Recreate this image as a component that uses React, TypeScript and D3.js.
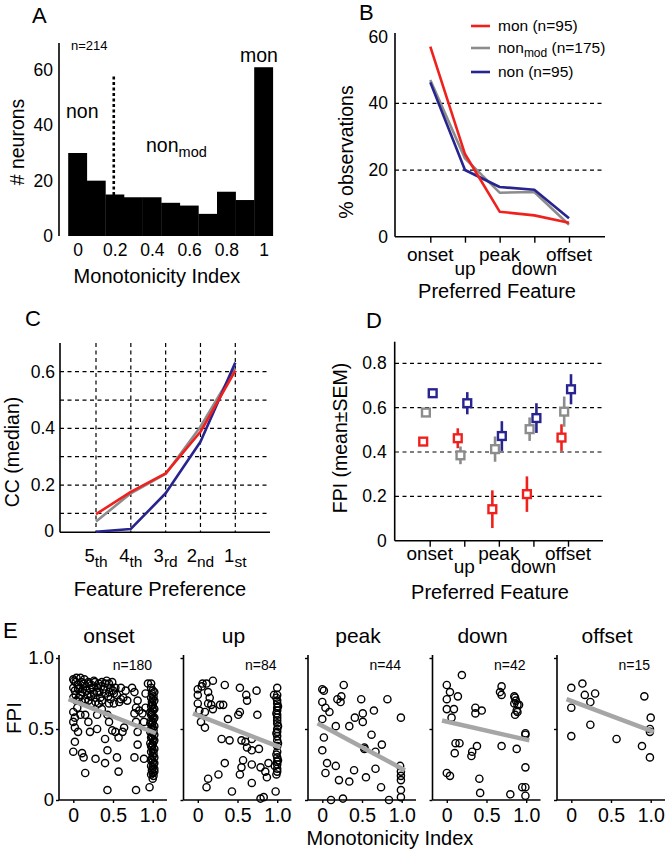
import React, { useEffect, useRef } from 'react';
import * as d3 from 'd3';

const FONT = '"Liberation Sans", Arial, Helvetica, sans-serif';
const RED = '#f0201c';
const GRAY = '#8c8c8c';
const BLUE = '#272490';
const FIT = '#a6a6a6';

// A: monotonicity index histogram
const miCenters = [0, 0.1, 0.2, 0.3, 0.4, 0.5, 0.6, 0.7, 0.8, 0.9, 1.0];
const miCounts = [30, 20, 15, 14, 14, 12, 11, 8, 16, 13, 61];
const miTicks = [0, 0.2, 0.4, 0.6, 0.8, 1];
const countTicks = [0, 20, 40, 60];
const miCut = 0.195;
const miCutRange = [14.8, 57.8];

// B: % observations per preferred feature
const features = ['onset', 'up', 'peak', 'down', 'offset'];
const pctMon = [57, 24.8, 7.5, 6.4, 4.2];
const pctNonmod = [47, 23.5, 13.2, 13.4, 3.6];
const pctNon = [46.3, 20, 14.9, 14.1, 5.5];
const pctTicks = [0, 20, 40, 60];
const pctGrid = [20, 40];

// C: CC (median) per feature rank
const rankNum = ['5', '4', '3', '2', '1'];
const rankSuf = ['th', 'th', 'rd', 'nd', 'st'];
const ccMon = [0.097, 0.176, 0.241, 0.388, 0.604];
const ccNonmod = [0.071, 0.171, 0.239, 0.406, 0.612];
const ccNon = [0.035, 0.045, 0.171, 0.353, 0.632];
const ccTicks = [0.2, 0.4, 0.6];
const ccGrid = [0.1, 0.2, 0.3, 0.4, 0.5, 0.6];

// D: FPI mean +- SEM
const fpiMon = [0.447, 0.462, 0.142, 0.21, 0.465];
const semMon = [0.02, 0.045, 0.085, 0.08, 0.06];
const fpiNonmod = [0.578, 0.385, 0.413, 0.503, 0.582];
const semNonmod = [0.015, 0.04, 0.057, 0.053, 0.068];
const fpiNon = [0.665, 0.62, 0.472, 0.553, 0.683];
const semNon = [0.02, 0.05, 0.067, 0.067, 0.068];
const fpiTicks = [0, 0.2, 0.4, 0.6, 0.8];
const fpiGrid = [0.2, 0.4, 0.6, 0.8];

// E: FPI vs monotonicity index, [MI, FPI]
const onsetPts = [
  [0.0, 0.85], [0.03, 0.83], [0.09, 0.86], [0.13, 0.82], [0.19, 0.83], [0.23, 0.81], [0.27, 0.83], [0.32, 0.82], [0.36, 0.83], [0.40, 0.82],
  [0.45, 0.82], [0.49, 0.83], [0.53, 0.79], [0.60, 0.79], [0.66, 0.77], [0.74, 0.79], [0.77, 0.76], [0.94, 0.82], [0.98, 0.82],
  [0.0, 0.79], [0.02, 0.77], [0.06, 0.78], [0.11, 0.76], [0.17, 0.77], [0.21, 0.78], [0.26, 0.75], [0.30, 0.76], [0.34, 0.72], [0.40, 0.75],
  [0.45, 0.76], [0.51, 0.75], [0.60, 0.71], [0.68, 0.70], [0.81, 0.70], [0.91, 0.75],
  [0.0, 0.72], [0.04, 0.70], [0.09, 0.74], [0.15, 0.71], [0.19, 0.70], [0.23, 0.68], [0.28, 0.69], [0.32, 0.68], [0.36, 0.70], [0.45, 0.68],
  [0.47, 0.71], [0.51, 0.68], [0.79, 0.65], [0.83, 0.63], [0.91, 0.65], [0.87, 0.61],
  [0.0, 0.62], [0.02, 0.58], [0.0, 0.55], [0.02, 0.51], [0.06, 0.48], [0.15, 0.60], [0.19, 0.55], [0.21, 0.48], [0.30, 0.60], [0.30, 0.50],
  [0.36, 0.64], [0.43, 0.60], [0.45, 0.55], [0.49, 0.49], [0.53, 0.48], [0.57, 0.44], [0.62, 0.48], [0.64, 0.51], [0.77, 0.61], [0.79, 0.55],
  [0.81, 0.48], [0.89, 0.55], [0.40, 0.43],
  [0.02, 0.41], [0.0, 0.34], [0.11, 0.33], [0.13, 0.30], [0.15, 0.19], [0.28, 0.29], [0.40, 0.26], [0.43, 0.35], [0.55, 0.30], [0.57, 0.20],
  [0.77, 0.30], [0.81, 0.39], [0.89, 0.29], [0.43, 0.07], [0.79, 0.07], [0.96, 0.09],
  [0.01, 0.84], [0.04, 0.86], [0.06, 0.81], [0.08, 0.79], [0.10, 0.83], [0.12, 0.78], [0.14, 0.85], [0.16, 0.80], [0.18, 0.74], [0.20, 0.82],
  [0.22, 0.73], [0.24, 0.79], [0.26, 0.84], [0.28, 0.72], [0.31, 0.79], [0.33, 0.76], [0.35, 0.80], [0.38, 0.78], [0.42, 0.84], [0.44, 0.73],
  [0.47, 0.79], [0.50, 0.77], [0.55, 0.74], [0.58, 0.69], [0.63, 0.72], [0.03, 0.74], [0.07, 0.72], [0.11, 0.69], [0.05, 0.65], [0.09, 0.60],
  [1.0, 0.77], [0.99, 0.75], [1.01, 0.73], [1.0, 0.71], [0.99, 0.69], [1.0, 0.67], [1.01, 0.65], [1.0, 0.63], [0.99, 0.61], [1.0, 0.59],
  [1.01, 0.57], [1.0, 0.55], [0.99, 0.53], [1.0, 0.51], [1.01, 0.49], [1.0, 0.47], [0.99, 0.45], [1.0, 0.43], [1.01, 0.41], [1.0, 0.39],
  [0.99, 0.37], [1.0, 0.35], [1.01, 0.33], [1.0, 0.31], [0.99, 0.29], [1.0, 0.27], [1.01, 0.25], [1.0, 0.23], [0.99, 0.21], [1.0, 0.19],
  [1.01, 0.17], [1.0, 0.15],
  [0.98, 0.79], [1.02, 0.76], [0.98, 0.72], [1.02, 0.70], [0.98, 0.66], [1.02, 0.64], [0.98, 0.60], [1.02, 0.58], [0.98, 0.56], [1.02, 0.52],
  [0.98, 0.50], [1.02, 0.46], [0.98, 0.44], [1.02, 0.42], [0.98, 0.38], [1.02, 0.36], [0.98, 0.34], [1.02, 0.30], [0.98, 0.28], [1.02, 0.26],
  [0.98, 0.24], [1.02, 0.20], [0.98, 0.18], [1.02, 0.22], [0.97, 0.48], [0.97, 0.62], [0.97, 0.40], [0.97, 0.54],
];
const upPts = [
  [0.0, 0.78], [0.0, 0.74], [0.0, 0.68], [0.02, 0.63], [0.04, 0.55], [0.09, 0.51], [0.06, 0.82], [0.11, 0.82], [0.19, 0.84], [0.13, 0.76],
  [0.15, 0.72], [0.13, 0.68], [0.17, 0.67], [0.19, 0.64], [0.28, 0.67], [0.32, 0.67], [0.34, 0.81], [0.38, 0.57], [0.53, 0.79], [0.61, 0.74],
  [0.62, 0.70], [0.53, 0.62], [0.51, 0.60], [0.74, 0.77], [0.75, 0.60], [0.30, 0.43], [0.40, 0.42], [0.55, 0.42], [0.60, 0.41], [0.62, 0.37],
  [0.68, 0.35], [0.77, 0.36], [0.68, 0.43], [0.34, 0.26], [0.57, 0.28], [0.55, 0.23], [0.53, 0.18], [0.68, 0.25], [0.79, 0.23], [0.85, 0.20],
  [0.87, 0.16], [0.89, 0.26], [0.68, 0.12], [0.26, 0.18], [0.13, 0.15], [0.11, 0.09], [0.43, 0.06], [0.79, 0.01], [0.83, 0.02], [0.98, 0.06],
  [1.0, 0.79], [1.0, 0.74], [1.0, 0.70], [1.0, 0.68], [1.0, 0.65], [1.0, 0.63], [1.0, 0.60], [1.0, 0.58], [1.0, 0.56], [1.0, 0.54],
  [1.0, 0.50], [1.0, 0.48], [1.0, 0.45], [1.0, 0.42], [1.0, 0.38], [1.0, 0.34], [1.0, 0.30], [1.0, 0.27], [1.0, 0.25], [1.0, 0.22],
  [1.0, 0.20], [0.96, 0.74], [0.97, 0.24],
  [0.99, 0.72], [1.01, 0.66], [0.99, 0.61], [1.01, 0.52], [0.99, 0.47], [1.01, 0.40], [0.99, 0.32], [1.01, 0.28], [0.99, 0.18], [0.05, 0.80],
  [0.09, 0.62],
];
const peakPts = [
  [0.0, 0.78], [0.0, 0.69], [0.04, 0.65], [0.09, 0.62], [0.0, 0.57], [0.02, 0.44], [0.0, 0.35], [0.06, 0.26], [0.04, 0.19], [0.17, 0.24],
  [0.17, 0.52], [0.19, 0.71], [0.23, 0.69], [0.24, 0.73], [0.27, 0.81], [0.21, 0.14], [0.34, 0.13], [0.34, 0.52], [0.40, 0.21], [0.41, 0.58],
  [0.51, 0.61], [0.51, 0.55], [0.49, 0.71], [0.53, 0.36], [0.55, 0.16], [0.62, 0.46], [0.65, 0.63], [0.67, 0.34], [0.67, 0.22], [0.74, 0.09],
  [0.75, 0.39], [0.82, 0.71], [0.84, 0.0], [0.99, 0.58], [0.99, 0.20], [0.99, 0.14], [0.99, 0.07], [0.99, 0.02], [0.11, 0.0], [0.26, 0.01],
  [0.98, 0.24], [0.53, 0.37], [0.99, 0.17], [0.02, 0.77],
];
const downPts = [
  [0.0, 0.81], [0.04, 0.76], [0.0, 0.71], [0.14, 0.73], [0.0, 0.64], [0.09, 0.64], [0.06, 0.58], [0.19, 0.88], [0.11, 0.40], [0.16, 0.40],
  [0.10, 0.33], [0.0, 0.19], [0.04, 0.17], [0.36, 0.65], [0.36, 0.61], [0.44, 0.63], [0.38, 0.38], [0.32, 0.34], [0.31, 0.31], [0.41, 0.15],
  [0.42, 0.05], [0.69, 0.80], [0.67, 0.76], [0.69, 0.74], [0.69, 0.38], [0.80, 0.04], [0.85, 0.73], [0.87, 0.70], [0.85, 0.68], [0.89, 0.67],
  [0.91, 0.67], [0.88, 0.63], [0.86, 0.60], [0.88, 0.36], [0.99, 0.46], [0.99, 0.23], [0.95, 0.09], [0.99, 0.09], [0.99, 0.03], [0.89, 0.62],
  [0.86, 0.72], [0.99, 0.47],
];
const offsetPts = [
  [0.0, 0.79], [0.14, 0.82], [0.17, 0.74], [0.30, 0.75], [0.24, 0.69], [0.0, 0.65], [0.24, 0.53], [0.0, 0.45], [0.57, 0.43], [0.92, 0.73],
  [1.0, 0.58], [0.99, 0.50], [0.99, 0.48], [0.89, 0.38], [0.99, 0.30],
];
const eTitles = ['onset', 'up', 'peak', 'down', 'offset'];
const eCounts = [180, 84, 44, 42, 15];
const ePoints = [onsetPts, upPts, peakPts, downPts, offsetPts];
const eFitX = [-0.06, 1.04];
const eFitY = [[0.71, 0.47], [0.61, 0.37], [0.54, 0.21], [0.56, 0.42], [0.71, 0.48]];
const eTicks = [0, 0.5, 1];

export default function App() {
  const svgRef = useRef<SVGSVGElement>(null);

  useEffect(() => {
    document.body.style.margin = '0';
    const svg = d3.select(svgRef.current);
    svg.selectAll('*').remove();
    svg.attr('font-family', FONT);

    const text = (x: number, y: number, s: string, size: number, anchor = 'start') =>
      svg.append('text').attr('x', x).attr('y', y).attr('font-size', size)
        .attr('text-anchor', anchor).attr('fill', '#000').text(s);
    const vlabel = (x: number, y: number, s: string, size = 19.5) =>
      svg.append('text').attr('transform', `translate(${x},${y}) rotate(-90)`)
        .attr('text-anchor', 'middle').attr('dy', '0.35em').attr('font-size', size).text(s);
    const hline = (x1: number, x2: number, y: number, dash?: string, w = 1.4) =>
      svg.append('line').attr('x1', x1).attr('x2', x2).attr('y1', y).attr('y2', y)
        .attr('stroke', '#000').attr('stroke-width', w).attr('stroke-dasharray', dash || null);
    const vline = (x: number, y1: number, y2: number, dash?: string, w = 1.4) =>
      svg.append('line').attr('x1', x).attr('x2', x).attr('y1', y1).attr('y2', y2)
        .attr('stroke', '#000').attr('stroke-width', w).attr('stroke-dasharray', dash || null);
    const tidy = (g: any, size: number) => {
      g.select('.domain').remove();
      g.selectAll('text').attr('font-family', FONT).attr('font-size', size).attr('fill', '#000');
      g.selectAll('line').attr('stroke', '#000').attr('stroke-width', 1.4);
    };
    const DASH = '4,3.5';

    // ---------- A
    const xA = d3.scaleLinear().domain([0, 1]).range([77.5, 263.5]);
    const yA = d3.scaleLinear().domain([0, 60]).range([236, 70]);
    svg.append('g').selectAll('rect').data(miCounts).join('rect')
      .attr('x', (d, i) => xA(miCenters[i] - 0.05))
      .attr('width', (d, i) => xA(miCenters[i] + 0.05) - xA(miCenters[i] - 0.05) + 0.3)
      .attr('y', d => yA(d)).attr('height', d => yA(0) - yA(d)).attr('fill', '#000');
    vline(59, 43, 236, undefined, 1.6);
    svg.append('g').attr('transform', 'translate(59,0)')
      .call(d3.axisLeft(yA).tickValues(countTicks).tickSize(0).tickPadding(6))
      .call(g => tidy(g, 17.5));
    svg.append('g').attr('transform', 'translate(0,236)')
      .call(d3.axisBottom(xA).tickValues(miTicks).tickSize(0).tickPadding(8).tickFormat(d => String(d)))
      .call(g => tidy(g, 17.5));
    vline(xA(miCut), yA(miCutRange[0]), yA(miCutRange[1]), '3,2.5', 2.6);
    text(32, 23, 'A', 22);
    text(71, 50, 'n=214', 13);
    text(66, 118, 'non', 19.5);
    text(240, 62, 'mon', 19.5);
    const nm = text(146, 152, 'non', 19.5);
    nm.append('tspan').attr('font-size', 14.5).attr('dy', 5).text('mod');
    text(157, 283, 'Monotonicity Index', 20, 'middle');
    vlabel(17, 142, '# neurons');

    // ---------- B
    const xB = d3.scalePoint().domain(features).range([430.3, 569]);
    const yB = d3.scaleLinear().domain([0, 60]).range([236.7, 36.7]);
    pctGrid.forEach(v => hline(395, 605, yB(v), DASH, 1.2));
    vline(395, 33, 236.7, undefined, 1.6);
    hline(395, 605, 236.7, undefined, 1.6);
    svg.append('g').attr('transform', 'translate(395,0)')
      .call(d3.axisLeft(yB).tickValues(pctTicks).tickSize(0).tickPadding(7))
      .call(g => tidy(g, 17.5));
    svg.append('g').attr('transform', 'translate(0,236.7)')
      .call(d3.axisBottom(xB).tickSize(6).tickFormat(() => ''))
      .call(g => tidy(g, 17));
    const lineB = d3.line<number>().x((d, i) => xB(features[i]) as number).y(d => yB(d));
    ([[pctNonmod, GRAY], [pctNon, BLUE], [pctMon, RED]] as [number[], string][]).forEach(([vals, c]) =>
      svg.append('path').datum(vals).attr('d', lineB).attr('fill', 'none')
        .attr('stroke', c).attr('stroke-width', 2.6).attr('stroke-linejoin', 'round'));
    features.forEach((f, i) => text(xB(f) as number, i % 2 ? 275 : 261, f, 19, 'middle'));
    text(497, 298, 'Preferred Feature', 20, 'middle');
    vlabel(346, 152, '% observations');
    text(359, 20, 'B', 22);
    const legB: [string, string, string, string][] = [
      ['mon', '', ' (n=95)', RED], ['non', 'mod', ' (n=175)', GRAY], ['non', '', ' (n=95)', BLUE]];
    legB.forEach(([a, sub, b, c], i) => {
      const ly = [26, 48, 72][i];
      svg.append('line').attr('x1', 471).attr('x2', 490).attr('y1', ly).attr('y2', ly)
        .attr('stroke', c).attr('stroke-width', 2.6);
      const t = text(498, ly + 5, a, 15.5);
      if (sub) t.append('tspan').attr('font-size', 12).attr('dy', 4).text(sub);
      t.append('tspan').attr('dy', sub ? -4 : 0).text(b);
    });

    // ---------- C
    const xC = d3.scalePoint().domain(rankNum).range([96, 235.3]);
    const yC = d3.scaleLinear().domain([0, 0.6]).range([541.7, 371.7]);
    const cFloor = 532.3;
    ccGrid.forEach(v => hline(60, 270, yC(v), DASH, 1.2));
    rankNum.forEach(r => vline(xC(r) as number, 343, cFloor, DASH, 1.2));
    vline(60, 343, cFloor, undefined, 1.6);
    hline(60, 270, cFloor, undefined, 1.6);
    svg.append('g').attr('transform', 'translate(60,0)')
      .call(d3.axisLeft(yC).tickValues(ccTicks).tickSize(0).tickPadding(5).tickFormat(d => String(d)))
      .call(g => tidy(g, 17.5));
    text(54, cFloor + 5, '0', 17.5, 'end');
    const lineC = d3.line<number>().x((d, i) => xC(rankNum[i]) as number).y(d => yC(d));
    ([[ccNonmod, GRAY], [ccNon, BLUE], [ccMon, RED]] as [number[], string][]).forEach(([vals, c]) =>
      svg.append('path').datum(vals).attr('d', lineC).attr('fill', 'none')
        .attr('stroke', c).attr('stroke-width', 2.6).attr('stroke-linejoin', 'round'));
    rankNum.forEach((r, i) => {
      const t = text(xC(r) as number, 562, r, 18.5, 'middle');
      t.append('tspan').attr('font-size', 15.5).attr('dy', 5).text(rankSuf[i]);
    });
    text(160, 596, 'Feature Preference', 20, 'middle');
    vlabel(12, 452, 'CC (median)');
    text(25, 326, 'C', 22);

    // ---------- D
    const xD = d3.scalePoint().domain(features).range([429.7, 568]);
    const yD = d3.scaleLinear().domain([0, 0.8]).range([540.7, 363.3]);
    fpiGrid.forEach(v => hline(395, 603, yD(v), DASH, 1.2));
    vline(394.7, 341.7, 540.7, undefined, 1.6);
    hline(394.7, 603, 540.7, undefined, 1.6);
    svg.append('g').attr('transform', 'translate(394.7,0)')
      .call(d3.axisLeft(yD).tickValues(fpiTicks).tickSize(0).tickPadding(8).tickFormat(d => String(d)))
      .call(g => tidy(g, 17.5));
    svg.append('g').attr('transform', 'translate(0,540.7)')
      .call(d3.axisBottom(xD).tickSize(6).tickFormat(() => ''))
      .call(g => tidy(g, 17));
    const groupsD: [number[], number[], string, number][] = [
      [fpiMon, semMon, RED, -6.5], [fpiNonmod, semNonmod, GRAY, -3.8], [fpiNon, semNon, BLUE, 3]];
    groupsD.forEach(([m, s, c, dx]) => {
      features.forEach((f, i) => {
        const cx = (xD(f) as number) + dx;
        svg.append('line').attr('x1', cx).attr('x2', cx)
          .attr('y1', yD(m[i] - s[i])).attr('y2', yD(m[i] + s[i]))
          .attr('stroke', c).attr('stroke-width', 2.6);
        svg.append('rect').attr('x', cx - 3.9).attr('y', yD(m[i]) - 3.9)
          .attr('width', 7.8).attr('height', 7.8).attr('fill', '#fff')
          .attr('stroke', c).attr('stroke-width', 2.4);
      });
    });
    features.forEach((f, i) => text(xD(f) as number, i % 2 ? 573 : 560, f, 19, 'middle'));
    text(490, 599, 'Preferred Feature', 20, 'middle');
    vlabel(340, 438, 'FPI (mean\u00B1SEM)');
    text(366, 328, 'D', 22);

    // ---------- E
    text(3, 638, 'E', 22);
    vlabel(14, 718, 'FPI', 20.5);
    text(390, 845, 'Monotonicity Index', 20, 'middle');
    const yE = d3.scaleLinear().domain([0, 1]).range([800, 658]);
    eTitles.forEach((title, k) => {
      const xL = 59 + k * 124.5;
      const xE = d3.scaleLinear().domain([-0.18, 1.18]).range([xL, xL + 108]);
      vline(xL, 655, 800, undefined, 1.6);
      hline(xL, xL + 108, 800, undefined, 1.6);
      svg.append('g').attr('transform', `translate(${xL},0)`)
        .call(d3.axisLeft(yE).tickValues(eTicks).tickSize(3).tickPadding(2)
          .tickFormat(d => (k === 0 ? (d === 0 ? '0' : d3.format('.1f')(d as number)) : '')))
        .call(g => tidy(g, 18.5));
      svg.append('g').attr('transform', 'translate(0,800)')
        .call(d3.axisBottom(xE).tickValues(eTicks).tickSize(3).tickPadding(5)
          .tickFormat(d => (d === 0 ? '0' : d3.format('.1f')(d as number))))
        .call(g => tidy(g, 19.5));
      svg.append('g').selectAll('circle').data(ePoints[k]).join('circle')
        .attr('cx', d => xE(d[0])).attr('cy', d => yE(d[1])).attr('r', 3.6)
        .attr('fill', 'none').attr('stroke', '#000').attr('stroke-width', 1.4);
      svg.append('line')
        .attr('x1', xE(eFitX[0])).attr('x2', xE(eFitX[1]))
        .attr('y1', yE(eFitY[k][0])).attr('y2', yE(eFitY[k][1]))
        .attr('stroke', FIT).attr('stroke-width', 4.5);
      text(xL + 50, 643, title, 21, 'middle');
      text(xL + 93, 670, `n=${eCounts[k]}`, 14, 'end');
    });
  }, []);

  return <svg ref={svgRef} width={666} height={852} style={{ display: 'block', background: '#fff' }} />;
}
